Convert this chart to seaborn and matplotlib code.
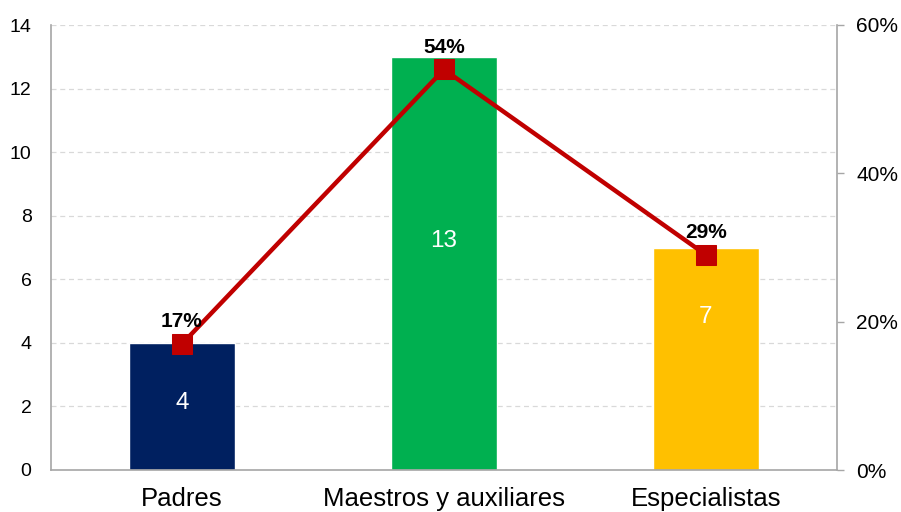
import matplotlib
matplotlib.use("Agg")
import matplotlib.pyplot as plt
import seaborn as sns
import pandas as pd
from matplotlib.ticker import PercentFormatter

categories = ["Padres", "Maestros y auxiliares", "Especialistas"]
counts = [4, 13, 7]
percents = [0.17, 0.54, 0.29]
pct_labels = ["17%", "54%", "29%"]
count_label_levels = [2.1, 7.2, 4.8]
bar_colors = ["#002060", "#00B050", "#FFC000"]
left_ticks = [0, 2, 4, 6, 8, 10, 12, 14]
right_ticks = [0, 0.2, 0.4, 0.6]

sns.set_theme(style="white")
plt.rcParams["font.family"] = ["Liberation Sans", "DejaVu Sans"]

df = pd.DataFrame({"cat": categories, "count": counts, "pct": percents})

fig = plt.figure(figsize=(9.01, 5.12), dpi=100)
ax = fig.add_axes([51/901, 1 - 470/512, (837-51)/901, (470-25)/512])

sns.barplot(data=df, x="cat", y="count", hue="cat", palette=bar_colors,
            width=0.405, legend=False, ax=ax, saturation=1)
ax.set_xlim(-0.5, 2.5)
ax.set_ylim(0, 14)
ax.set_yticks(left_ticks)
ax.set_xlabel("")
ax.set_ylabel("")
ax.yaxis.grid(True, linestyle=(0, (4, 3)), color="#D9D9D9", linewidth=0.9)
ax.set_axisbelow(True)
for s in ["top", "right"]:
    ax.spines[s].set_visible(False)
for s in ["left", "bottom"]:
    ax.spines[s].set_color("#A6A6A6")
    ax.spines[s].set_linewidth(1.2)
ax.tick_params(axis="y", length=0, labelsize=14, colors="#000000", pad=14)
ax.tick_params(axis="x", length=0, labelsize=18.5, colors="#000000", pad=12)

for i, (c, lv) in enumerate(zip(counts, count_label_levels)):
    ax.text(i, lv, str(c), ha="center", va="center", color="white", fontsize=17.5)

ax2 = ax.twinx()
sns.lineplot(x=list(range(len(categories))), y=percents, ax=ax2, color="#C00000",
             linewidth=3.2, marker="s", markersize=14, markeredgecolor="#C00000")
ax2.set_ylim(0, 0.6)
ax2.set_yticks(right_ticks)
ax2.yaxis.set_major_formatter(PercentFormatter(1.0, decimals=0))
for s in ["top", "left", "bottom"]:
    ax2.spines[s].set_visible(False)
ax2.spines["right"].set_color("#A6A6A6")
ax2.spines["right"].set_linewidth(1.2)
ax2.tick_params(axis="y", length=5, width=1, color="#A6A6A6", labelsize=15,
                labelcolor="#000000", pad=9)
ax2.set_ylabel("")

for i, (p, lab) in enumerate(zip(percents, pct_labels)):
    ax2.annotate(lab, (i, p), xytext=(0, 16), textcoords="offset points",
                 ha="center", va="center", fontsize=15, fontweight="bold", color="black")

fig.savefig("out.png", dpi=100)
